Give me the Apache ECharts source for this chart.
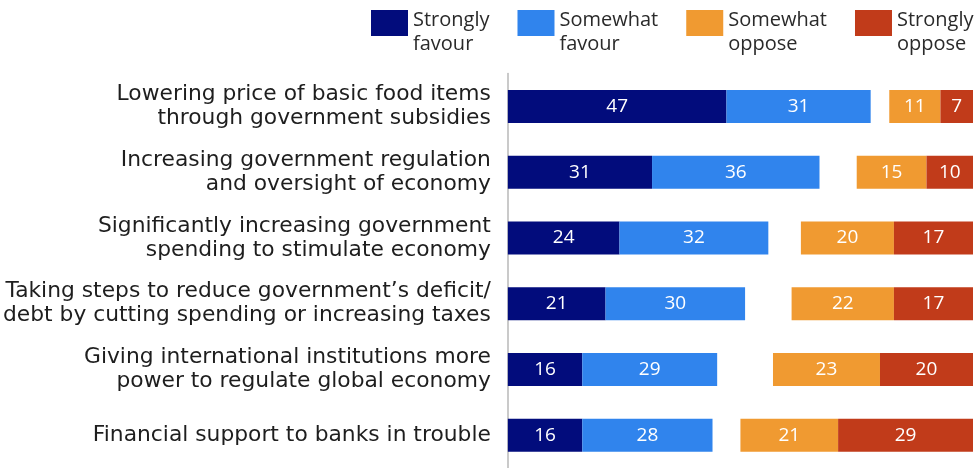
<!DOCTYPE html>
<html>
<head>
<meta charset="utf-8">
<script src="https://cdn.jsdelivr.net/npm/echarts@6/dist/echarts.min.js"></script>
<style>
  html, body { margin: 0; padding: 0; background: #fff; }
  #chart { width: 978px; height: 468px; }
</style>
</head>
<body>
<div id="chart"></div>
<script>
// Survey items, top to bottom
const categories = [
  'Lowering price of basic food items\nthrough government subsidies',
  'Increasing government regulation\nand oversight of economy',
  'Significantly increasing government\nspending to stimulate economy',
  'Taking steps to reduce government\u2019s deficit/\ndebt by cutting spending or increasing taxes',
  'Giving international institutions more\npower to regulate global economy',
  'Financial support to banks in trouble'
];

// Percent of respondents in each answer group
const stronglyFavour   = [47, 31, 24, 21, 16, 16];
const somewhatFavour   = [31, 36, 32, 30, 29, 28];
const somewhatOppose   = [11, 15, 20, 22, 23, 21];
const stronglyOppose   = [7, 10, 17, 17, 20, 29];

const seriesNames = ['Strongly\nfavour', 'Somewhat\nfavour', 'Somewhat\noppose', 'Strongly\noppose'];

// Oppose bars sit flush with the right end of the 0-100 scale;
// the remaining share (no answer) is an empty gap between the two groups.
const gap = categories.map((_, i) =>
  100 - stronglyFavour[i] - somewhatFavour[i] - somewhatOppose[i] - stronglyOppose[i]);

const FONT = '"Open Sans"';
const LABEL_FONT = '"DejaVu Sans"';
const colors = ['#020c7c', '#3084ed', '#f09a31', '#c13b1a'];

// Legend swatch: a 37x26 block sitting at the top of a taller slot,
// so the two-line legend text hangs below the swatch's top edge.
const legendIcon = 'path://M0,0h37v26h-37z M0,44h0.001v0.001h-0.001z';

const barLabel = {
  show: true,
  position: 'inside',
  color: '#fff',
  fontFamily: FONT,
  fontSize: 19
};

function barSeries(name, data, color) {
  return {
    name: name,
    type: 'bar',
    stack: 'total',
    barWidth: 33,
    data: data,
    itemStyle: { color: color },
    label: barLabel,
    emphasis: { disabled: true },
    animation: false
  };
}

const chart = echarts.init(document.getElementById('chart'), null, { renderer: 'canvas' });

chart.setOption({
  backgroundColor: '#fff',
  animation: false,
  legend: {
    data: seriesNames.map(n => ({ name: n, icon: legendIcon })),
    left: 371,
    top: 8,
    padding: 0,
    itemWidth: 37,
    itemHeight: 44,
    itemGap: 28,
    selectedMode: false,
    textStyle: {
      fontFamily: FONT,
      fontSize: 20,
      lineHeight: 24,
      color: '#2a2a2a'
    }
  },
  grid: {
    left: 507,
    right: 5,
    top: 73.5,
    height: 396,
    containLabel: false
  },
  xAxis: {
    type: 'value',
    min: 0,
    max: 100,
    show: false
  },
  yAxis: {
    type: 'category',
    data: categories,
    inverse: true,
    axisLine: { show: true, lineStyle: { color: '#b8b8b8', width: 1.5 } },
    axisTick: { show: false },
    splitLine: { show: false },
    axisLabel: {
      fontFamily: LABEL_FONT,
      fontSize: 21.8,
      lineHeight: 24,
      color: '#1e1e1e',
      margin: 17,
      align: 'right'
    }
  },
  series: [
    barSeries(seriesNames[0], stronglyFavour, colors[0]),
    barSeries(seriesNames[1], somewhatFavour, colors[1]),
    {
      name: 'gap',
      type: 'bar',
      stack: 'total',
      barWidth: 33,
      data: gap,
      itemStyle: { color: 'rgba(0,0,0,0)' },
      label: { show: false },
      emphasis: { disabled: true },
      silent: true,
      animation: false
    },
    barSeries(seriesNames[2], somewhatOppose, colors[2]),
    barSeries(seriesNames[3], stronglyOppose, colors[3])
  ]
});
</script>
</body>
</html>
